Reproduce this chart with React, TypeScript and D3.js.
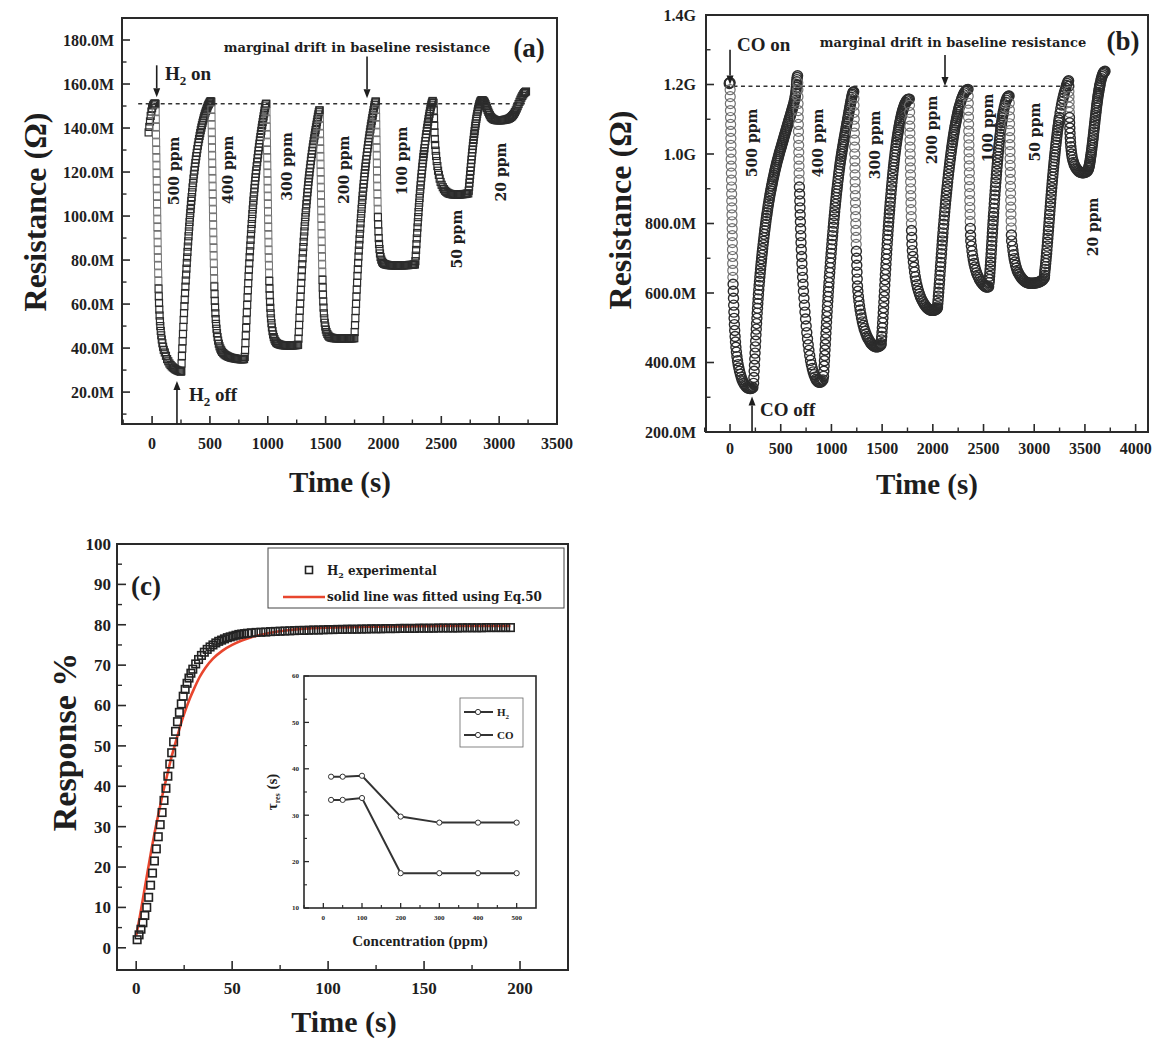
import React from "react";
import * as d3 from "d3";

type P = [number, number];

// ---------------- Panel (a): H2 sensing, resistance (MΩ) vs time (s) ----------------
const h2Lead: P[] = [[-30,138],[-24,140.5],[-18,143],[-12,145.5],[-6,147.5],[0,149],[8,150.3],[16,151],[24,151.2]];
const h2Ppm500: P[] = [
[30,151],[31,147.5],[32,144],[33,140.5],[34,137],[35,133.5],[36,130],[37,126.5],[38,123],[39,119.5],[40,116],[41,112.5],[42,109],[43,105.5],[44,102],[45,98.5],[46,95],[47,91.5],[48,88],[49,84.5],[50,81],[51.5,77.5],[53,74],[54.5,70.5],[56,67],[58,63.5],[60,60.5],[62.5,57.5],[65,54.8],[68,52.2],[71,50],[75,47.8],[79,45.8],[84,43.9],[89,42.2],[95,40.6],[101,39.2],
[110,38],[120,36.5],[130,35],[140,34],[150,33],[160,32.3],[170,31.7],[180,31.2],[190,30.8],[200,30.4],[210,30.1],[220,29.8],[230,29.6],[240,29.4],[250,29.3],
[252,29.5],[255,33],[258,36.4],[261,39.8],[264,43.1],[267,46.4],[270,49.6],[273,52.8],[276,55.9],[279,59],[282,62],[285,65],[288,67.9],[291,70.7],[294,73.4],[297,76.1],[300,78.7],[303,81.2],[306,83.7],[309,86.1],[312,88.5],[315,90.8],[318,93],[321,95.2],[324,97.3],[327,99.3],[330,101.3],[333,103.2],[336,105.1],[339,106.9],[342,108.6],[346,110.8],[350,113],[354,115],[358,117],[362,118.9],[366,120.7],[370,122.4],[374,124.1],[378,125.7],[382,127.2],[386,128.7],[391,130.4],[396,132],[401,133.6],[406,135],[411,136.4],[416,137.7],[421,139],[426,140.2],[431,141.3],[436,142.4],[441,143.4],[446,144.4],[451,145.3],[456,146.2],[461,147],[466,147.8],[471,148.5],[476,149.2],[481,149.9],[486,150.5],[491,151],[496,151.5],[501,151.9],[506,152.2]];
const h2Ppm400: P[] = [
[512,152],[513,148.5],[514,145],[515,141.5],[516,138],[517,134.5],[518,131],[519,127.5],[520,124],[521,120.5],[522,117],[523,113.5],[524,110],[525,106.5],[526,103],[527,99.5],[528,96],[529,92.5],[530,89],[531,85.5],[532,82],[533.5,78.5],[535,75],[536.5,71.5],[538,68],[540,64.5],[542,61.5],[544.5,58.5],[547,55.8],[550,53.2],[553,51],[557,48.8],[561,46.8],[566,45],[571,43.4],[577,42],[583,40.8],[590,39.8],[597,39],[605,38.3],
[615,37.7],[625,37.2],[635,36.8],[645,36.5],[655,36.2],[665,36],[675,35.8],[685,35.6],[695,35.5],[705,35.4],[715,35.3],[725,35.2],[735,35.1],[745,35],[755,35],[765,34.9],[775,34.9],[785,34.9],[795,35],
[801,36],[804,39],[807,42.3],[810,45.7],[813,49.2],[816,52.7],[819,56.2],[822,59.6],[825,63],[828,66.3],[831,69.5],[834,72.6],[837,75.6],[840,78.5],[843,81.3],[846,84],[849,86.6],[852,89.2],[855,91.7],[858,94.1],[861,96.4],[864,98.7],[867,100.9],[870,103],[873,105],[876,107],[879,108.9],[882,110.8],[885,112.6],[888,114.3],[891,116],[894,117.6],[897,119.2],[900,120.7],[904,122.6],[908,124.5],[912,126.3],[916,128],[920,129.7],[924,131.3],[928,132.9],[932,134.4],[936,135.9],[940,137.3],[944,138.7],[948,140.1],[952,141.4],[956,142.7],[960,144],[964,145.3],[968,146.6],[972,147.9],[976,149.1],[980,150.2],[984,151]];
const h2Ppm300: P[] = [
[988,151],[989,147.5],[990,144],[991,140.5],[992,137],[993,133.5],[994,130],[995,126.5],[996,123],[997,119.5],[998,116],[999,112.5],[1000,109],[1001,105.5],[1002,102],[1003,98.5],[1004,95],[1005,91.5],[1006,88],[1007,84.5],[1008.5,81],[1010,77.5],[1011.5,74],[1013,70.5],[1015,67],[1017,64],[1019.5,61],[1022,58.3],[1025,55.8],[1028,53.5],[1032,51.3],[1036,49.4],[1041,47.7],[1046,46.2],[1052,45],[1058,44],[1065,43.2],[1072,42.6],
[1080,42.2],[1090,41.9],[1100,41.7],[1110,41.5],[1120,41.4],[1130,41.3],[1140,41.3],[1150,41.2],[1160,41.2],[1170,41.2],[1180,41.2],[1190,41.2],[1200,41.2],[1210,41.2],[1220,41.2],[1230,41.3],[1240,41.3],[1250,41.4],[1258,41.4],
[1262,41.5],[1265,44.3],[1268,47.3],[1271,50.5],[1274,53.7],[1277,57],[1280,60.2],[1283,63.4],[1286,66.5],[1289,69.6],[1292,72.5],[1295,75.4],[1298,78.1],[1301,80.8],[1304,83.4],[1307,85.9],[1310,88.3],[1313,90.7],[1316,93],[1319,95.3],[1322,97.4],[1325,99.5],[1328,101.6],[1331,103.5],[1334,105.4],[1337,107.2],[1340,109],[1343,110.8],[1346,112.4],[1349,114],[1352,115.6],[1355,117.1],[1358,118.5],[1361,119.9],[1365,121.7],[1369,123.4],[1373,125.1],[1377,126.7],[1381,128.2],[1385,129.7],[1389,131.2],[1393,132.6],[1397,134],[1401,135.3],[1405,136.6],[1409,137.9],[1413,139.1],[1417,140.3],[1421,141.5],[1425,142.7],[1429,143.9],[1433,145.1],[1437,146.2],[1441,147.2],[1445,148]];
const h2Ppm200: P[] = [
[1449,148],[1450,144.5],[1451,141],[1452,137.5],[1453,134],[1454,130.5],[1455,127],[1456,123.5],[1457,120],[1458,116.5],[1459,113],[1460,109.5],[1461,106],[1462,102.5],[1463,99],[1464,95.5],[1465,92],[1466,88.5],[1467,85],[1468.5,81.5],[1470,78],[1471.5,74.5],[1473,71],[1475,67.5],[1477,64.3],[1479.5,61.2],[1482,58.4],[1485,55.8],[1488.5,53.5],[1492.5,51.5],[1497,49.8],[1502,48.4],[1508,47.3],[1515,46.4],[1523,45.7],[1531,45.2],
[1541,44.9],[1551,44.7],[1561,44.6],[1571,44.5],[1581,44.5],[1591,44.4],[1601,44.4],[1611,44.4],[1621,44.4],[1631,44.4],[1641,44.4],[1651,44.4],[1661,44.4],[1671,44.4],[1681,44.4],[1691,44.4],[1701,44.4],[1711,44.4],[1721,44.4],[1731,44.4],[1741,44.5],
[1748,44.5],[1751,47.3],[1754,50.4],[1757,53.6],[1760,56.9],[1763,60.1],[1766,63.4],[1769,66.6],[1772,69.7],[1775,72.8],[1778,75.8],[1781,78.7],[1784,81.6],[1787,84.3],[1790,86.9],[1793,89.4],[1796,91.9],[1799,94.3],[1802,96.7],[1805,99],[1808,101.1],[1811,103.3],[1814,105.3],[1817,107.3],[1820,109.2],[1823,111.1],[1826,112.9],[1829,114.6],[1832,116.3],[1835,117.9],[1838,119.5],[1841,121],[1844,122.4],[1847,123.9],[1851,125.7],[1855,127.4],[1859,129.1],[1863,130.7],[1867,132.3],[1871,133.8],[1875,135.3],[1879,136.7],[1883,138.1],[1887,139.4],[1891,140.8],[1895,142],[1899,143.3],[1903,144.5],[1907,145.7],[1911,146.9],[1915,148.1],[1919,149.3],[1923,150.4],[1927,151.2],[1931,152]];
const h2Ppm100: P[] = [
[1935,152],[1936,148.5],[1937,145],[1938,141.5],[1939,138],[1940,134.5],[1941,131],[1942,127.5],[1943,124],[1944,120.5],[1945,117],[1946,113.5],[1947.5,110],[1949,106.5],[1950.5,103],[1952,99.5],[1954,96.2],[1956.5,93],[1959,90],[1962,87.3],[1966,85],[1970,83],[1975,81.4],[1981,80.2],[1988,79.3],[1996,78.7],[2005,78.3],
[2015,78.1],[2025,77.9],[2035,77.8],[2045,77.7],[2055,77.7],[2065,77.6],[2075,77.6],[2085,77.6],[2095,77.6],[2105,77.6],[2115,77.6],[2125,77.6],[2135,77.6],[2145,77.6],[2155,77.6],[2165,77.6],[2175,77.6],[2185,77.7],[2195,77.7],[2205,77.7],[2215,77.7],[2225,77.8],[2235,77.8],[2245,77.8],[2255,77.9],[2265,78],[2272,78],
[2276,79.5],[2279,82],[2282,84.6],[2285,87.2],[2288,89.8],[2291,92.3],[2294,94.8],[2297,97.2],[2300,99.5],[2303,101.8],[2306,104],[2309,106.1],[2312,108.2],[2315,110.2],[2318,112.1],[2321,114],[2324,115.8],[2327,117.5],[2330,119.2],[2333,120.8],[2336,122.4],[2339,123.9],[2342,125.4],[2345,126.8],[2348,128.2],[2351,129.5],[2354,130.8],[2358,132.5],[2362,134.1],[2366,135.7],[2370,137.2],[2374,138.7],[2378,140.1],[2382,141.5],[2386,142.8],[2390,144.1],[2394,145.3],[2398,146.5],[2402,147.6],[2406,148.7],[2410,149.7],[2414,150.6],[2418,151.4],[2422,152],[2426,152.3]];
const h2Ppm50: P[] = [
[2433,151.5],[2435,148],[2437,144.5],[2439,141],[2441,138],[2444,135],[2447,132.3],[2451,129.7],[2455,127.3],[2460,125],[2466,122.7],[2472,120.6],[2479,118.7],[2486,117],[2494,115.5],[2503,114.2],[2513,113.1],[2523,112.2],[2533,111.5],[2543,111],[2553,110.6],[2563,110.3],[2573,110.1],[2583,110],[2593,109.9],[2603,109.8],[2613,109.8],[2623,109.8],[2633,109.8],[2643,109.8],[2653,109.8],[2663,109.8],[2673,109.9],[2683,109.9],[2693,110],[2703,110],[2713,110.1],[2723,110.2],[2733,110.3],
[2737,111.5],[2740,113.3],[2743,115.1],[2746,116.9],[2749,118.7],[2752,120.5],[2755,122.2],[2758,123.9],[2761,125.6],[2764,127.2],[2767,128.8],[2770,130.3],[2773,131.8],[2776,133.2],[2779,134.6],[2782,136],[2785,137.3],[2788,138.6],[2791,139.8],[2794,141],[2797,142.1],[2800,143.2],[2803,144.2],[2806,145.2],[2810,146.4],[2814,147.5],[2818,148.5],[2822,149.4],[2826,150.2],[2830,150.9],[2834,151.5],[2838,152],[2842,152.3],[2846,152.5],[2850,152.6],[2855,152.6],[2860,152.5],[2865,152.3],[2870,152]];
const h2Ppm20: P[] = [
[2876,151.5],[2882,150.8],[2888,150],[2894,149.1],[2900,148.2],[2906,147.4],[2913,146.6],[2920,145.8],[2928,145.1],[2936,144.6],[2945,144.2],[2954,143.9],[2964,143.7],[2974,143.6],[2984,143.5],[2994,143.5],[3004,143.5],[3014,143.5],[3024,143.6],[3034,143.6],[3044,143.7],[3054,143.8],[3064,143.9],[3074,144.1],[3084,144.3],[3094,144.6],[3104,145],[3112,145.4],[3120,145.9],[3128,146.5],[3136,147.2],[3144,148],[3152,148.9],[3160,149.9],[3168,150.9],[3176,151.9],[3184,152.9],[3192,153.8],[3200,154.6],[3208,155.3],[3216,155.9],[3224,156.3],[3232,156.6]];

const aYTicks = [20, 40, 60, 80, 100, 120, 140, 160, 180];
const aYLabels = ["20.0M", "40.0M", "60.0M", "80.0M", "100.0M", "120.0M", "140.0M", "160.0M", "180.0M"];
const aXTicks = [0, 500, 1000, 1500, 2000, 2500, 3000, 3500];
const aPpmLabels = ["500 ppm", "400 ppm", "300 ppm", "200 ppm", "100 ppm", "50 ppm", "20 ppm"];
const aPpmT = [192, 655, 1166, 1661, 2157, 2636, 3019];
const aPpmR = [120.5, 121, 122.5, 121, 125, 89.5, 120];

// ---------------- Panel (b): CO sensing, resistance (MΩ) vs time (s) ----------------
const coLead: P[] = [[-8,1203],[-4,1205]];
const coPpm500: P[] = [
[0,1205],[1,1185],[2,1165],[3,1145],[4,1125],[5,1105],[6,1085],[7,1065],[8,1045],[9,1025],[10,1005],[11,985],[12,965],[13,945],[14,925],[15,905],[16,885],[17,865],[18,845],[19,825],[20,805],[21,785],[22,765],[23,745],[24,725],[25,705],[26,685],[27,665],[28,645],
[30,625],[32,605],[34,585],[36,565],[38,545],[40,527],[43,509],[46,492],[50,475],[54,459],[58,444],[63,430],[68,417],[74,405],[80,394],[87,384],[94,375],[102,366],[110,358],[118,351],[127,345],[136,340],[145,336],[155,332],[165,329],[175,327],[185,326],[195,325],[205,325],[215,326],[225,328],
[232,340],[235,357],[238,375],[241,392],[244,410],[247,427],[250,445],[253,462],[256,480],[259,496],[262,512],[265,527],[268,542],[271,556],[274,570],[277,583],[280,596],[283.5,609],[287,622],[290.5,634],[294,646],[297.5,657],[301,668],[304.5,679],[308,689],[311.5,699],[315,709],[318.5,719],[322,728],[326,739],[330,749],[334,759],[338,769],[342,779],[346,788],[350,797],[354,806],[358,815],[362,823],[366,831],[370,839],[374.5,848],[379,856],[383.5,864],[388,872],[392.5,880],[397,887],[401.5,894],[406,901],[410.5,908],[415,914],[419.5,921],[424,927],[428.5,933],[433,939],[437.5,945],[442,951],[446.5,957],[451,962],[455.5,968],[460,973],[465,979],[470,984],[475,990],[480,995],[485,1001],[490,1006],[495,1011],[500,1016],[505,1021],[510,1026],[515,1031],[520,1036],[525,1041],[530,1046],[535,1051],[540,1056],[545,1061],[550,1066],[555,1071],[560,1076],[565,1081],[570,1086],[575,1091],[580,1096],[585,1101],[590,1106],[595,1111],[600,1116],[605,1121],[610,1126],[615,1131],[620,1136],[625,1141],[630,1147],[635,1153],[640,1160],[644,1167],[648,1175],[651,1183],[654,1192],[656,1200],[658,1208],[660,1214],[662,1220],[666,1225]];
const coPpm400: P[] = [
[668,1205],[669,1185],[670,1165],[671,1145],[672,1125],[673,1105],[674,1085],[675,1065],[676,1045],[677,1025],[678,1005],[679,985],[680,965],[681,945],[682,925],[684,905],[686,885],[688,865],[690,845],[692,825],[694,805],[696,785],[698,765],[700,745],[703,725],[706,705],[709,685],[712,665],[716,645],[720,625],[724,605],[729,585],[734,565],[739,545],[745,525],[751,505],[757,486],[764,468],[771,451],[778,435],[786,420],[794,406],[802,394],[811,383],[820,373],[829,365],[838,358],[847,352],[856,348],[866,345],[876,343],[886,343],[896,344],[906,346],[916,350],
[922,360],[925,375],[928,390],[931,405],[934,420],[937,436],[940,452],[943,468],[946,484],[949,500],[952,516],[955,532],[958,547],[961,562],[964,576],[967,590],[970,604],[973,617],[976,630],[979.5,645],[983,659],[986.5,673],[990,687],[993.5,701],[997,714],[1000.5,727],[1004,740],[1007.5,753],[1011,765],[1014.5,777],[1018,789],[1021.5,801],[1025,812],[1028.5,823],[1032,834],[1035.5,845],[1039,855],[1042.5,865],[1046,875],[1049.5,885],[1053,894],[1056.5,903],[1060,912],[1064,922],[1068,932],[1072,942],[1076,951],[1080,960],[1084,969],[1088,977],[1092,985],[1096,993],[1100,1000],[1104,1007],[1108,1014],[1112,1021],[1116,1028],[1120,1035],[1124,1041],[1128,1048],[1132,1054],[1136,1061],[1140,1067],[1144,1074],[1148,1080],[1152,1087],[1156,1093],[1160,1100],[1164,1106],[1168,1113],[1172,1119],[1176,1126],[1180,1132],[1184,1139],[1188,1145],[1192,1151],[1196,1157],[1200,1163],[1204,1168],[1208,1172],[1212,1176],[1216,1178],[1220,1179]];
const coPpm300: P[] = [
[1222,1160],[1223,1140],[1224,1120],[1225,1100],[1226,1080],[1227,1060],[1228,1040],[1229,1020],[1230,1000],[1231,980],[1232,960],[1233,940],[1234,920],[1235,900],[1236,880],[1237,860],[1238,840],[1239,820],[1240,800],[1241.5,780],[1243,760],[1244.5,740],[1246,720],[1248,700],[1250,680],[1252,660],[1254.5,640],[1257,620],
[1261,605],[1266,590],[1271,576],[1277,563],[1283,551],[1290,539],[1297,528],[1305,517],[1313,507],[1322,498],[1331,490],[1341,482],[1351,475],[1361,469],[1371,464],[1381,459],[1391,455],[1401,452],[1411,449],[1421,447],[1431,446],[1441,445],[1451,445],[1461,446],[1471,447],[1481,449],[1488,451],
[1490,455],[1493,465],[1496,475],[1499,487],[1502,500],[1505,514],[1508,528],[1511,543],[1514,558],[1517,574],[1520,590],[1523,606],[1526,622],[1529,638],[1532,653],[1535,668],[1538,683],[1541,698],[1544,712],[1547,726],[1550,740],[1553,754],[1556,767],[1559,780],[1562,792],[1565,804],[1568,816],[1571,828],[1574,839],[1577,850],[1580,861],[1583.5,873],[1587,885],[1590.5,897],[1594,908],[1597.5,919],[1601,930],[1604.5,941],[1608,951],[1611.5,961],[1615,970],[1618.5,979],[1622,988],[1626,998],[1630,1007],[1634,1016],[1638,1025],[1642,1033],[1646,1041],[1650,1049],[1654,1056],[1658,1063],[1662,1070],[1666,1077],[1670,1083],[1674,1089],[1678,1095],[1682.5,1101],[1687,1107],[1691.5,1113],[1696,1118],[1700.5,1123],[1705,1127],[1709.5,1131],[1714,1135],[1718.5,1139],[1723,1142],[1727.5,1145],[1732,1148],[1741,1153],[1750,1156],[1759,1158],[1768,1158]];
const coPpm200: P[] = [
[1770,1140],[1771,1120],[1772,1100],[1773,1080],[1774,1060],[1775,1040],[1776,1020],[1777,1000],[1778,980],[1779,960],[1780,940],[1781,920],[1782,900],[1783,880],[1784,860],[1785.5,840],[1787,820],[1788.5,800],[1790,780],[1792,760],[1794,740],
[1798,722],[1803,705],[1808,689],[1814,674],[1820,660],[1827,647],[1834,635],[1842,624],[1850,614],[1859,605],[1868,597],[1877,590],[1887,583],[1897,577],[1907,572],[1917,567],[1927,563],[1937,559],[1947,556],[1957,554],[1967,552],[1977,551],[1987,550],[1997,550],[2007,550],[2017,551],[2027,552],[2037,554],[2044,556],
[2046,560],[2049,570],[2052,580],[2055,591],[2058,602],[2061,614],[2064,626],[2067,638],[2070,651],[2073,663],[2076,676],[2079,688],[2082,701],[2085,713],[2088,726],[2091,738],[2094,750],[2097,761],[2100,773],[2103.5,786],[2107,798],[2110.5,810],[2114,822],[2117.5,834],[2121,845],[2124.5,856],[2128,867],[2131.5,878],[2135,888],[2138.5,898],[2142,908],[2146,919],[2150,930],[2154,941],[2158,951],[2162,961],[2166,971],[2170,981],[2174,990],[2178,999],[2182,1008],[2186,1017],[2190,1025],[2194,1033],[2198,1041],[2202,1049],[2206,1056],[2210,1063],[2214,1070],[2218,1077],[2222,1083],[2226,1089],[2230,1095],[2234.5,1102],[2239,1108],[2243.5,1114],[2248,1120],[2252.5,1126],[2257,1131],[2261.5,1136],[2266,1141],[2275,1150],[2284,1158],[2293,1165],[2302,1171],[2311,1176],[2320,1180],[2329,1183],[2338,1185],[2347,1186]];
const coPpm100: P[] = [
[2349,1166],[2350,1146],[2351,1126],[2352,1106],[2353,1086],[2354,1066],[2355,1046],[2356,1026],[2357,1006],[2358,986],[2359,966],[2360,946],[2361,926],[2362,906],[2363,886],[2364,866],[2365.5,846],[2367,826],[2368.5,806],[2370,786],[2372,766],[2374,750],
[2380,735],[2386,721],[2392,708],[2399,696],[2406,685],[2414,675],[2422,666],[2431,658],[2440,651],[2450,645],[2460,639],[2470,634],[2480,630],[2490,626],[2500,623],[2510,620],[2520,618],[2530,617],[2540,617],[2550,618],
[2555,630],[2557.5,639],[2560,648],[2562.5,658],[2565,668],[2567.5,679],[2570,690],[2572.5,701],[2575,713],[2577.5,725],[2580,737],[2582.5,749],[2585,761],[2587.5,773],[2590,785],[2592.5,797],[2595,808],[2597.5,820],[2600,831],[2603,844],[2606,857],[2609,870],[2612,882],[2615,894],[2618,906],[2621,918],[2624,929],[2627,940],[2630,951],[2633,962],[2636,972],[2639,982],[2642,992],[2645,1002],[2648,1011],[2651,1020],[2654,1029],[2657.5,1039],[2661,1048],[2664.5,1057],[2668,1066],[2671.5,1074],[2675,1082],[2678.5,1090],[2682,1097],[2685.5,1104],[2689,1110],[2692.5,1116],[2696,1122],[2703,1132],[2710,1141],[2717,1149],[2724,1155],[2731,1160],[2738,1164],[2745,1166],[2752,1167]];
const coPpm50: P[] = [
[2754,1147],[2755,1127],[2756,1107],[2757,1087],[2758,1067],[2759,1047],[2760,1027],[2761,1007],[2762,987],[2763,967],[2764,947],[2765,927],[2766,907],[2767,887],[2768,867],[2769,847],[2770.5,827],[2772,807],[2773.5,787],[2775,767],[2777,750],
[2785,735],[2790,722],[2796,710],[2802,699],[2809,689],[2816,680],[2824,672],[2832,665],[2841,659],[2850,654],[2860,649],[2870,645],[2880,641],[2890,638],[2900,635],[2910,633],[2920,631],[2930,630],[2940,629],[2950,628],[2960,628],[2970,628],[2980,628],[2990,628],[3000,628],[3010,629],[3020,629],[3030,630],[3040,631],[3050,632],[3060,633],[3070,635],[3080,637],[3090,640],[3100,644],
[3102,651],[3104,660],[3107,668],[3110,676],[3113,685],[3116,694],[3119,704],[3122,714],[3125,724],[3128,735],[3131,746],[3134,757],[3137,768],[3140,780],[3143,791],[3146,803],[3149,814],[3152,826],[3155,837],[3158,849],[3161,860],[3164,871],[3167,882],[3170,893],[3173,903],[3176,914],[3179,924],[3182,934],[3185,943],[3188,953],[3191,962],[3194,971],[3197,980],[3200,989],[3203,997],[3206,1006],[3209.5,1015],[3213,1025],[3216.5,1034],[3220,1043],[3223.5,1051],[3227,1060],[3230.5,1068],[3234,1076],[3237.5,1083],[3241,1091],[3244.5,1098],[3248,1105],[3255,1118],[3262,1130],[3269,1141],[3276,1151],[3283,1160],[3290,1168],[3297,1176],[3304,1183],[3311,1190],[3318,1197],[3325,1203],[3332,1208],[3339,1211]];
const coPpm20: P[] = [
[3341,1195],[3342,1180],[3343,1165],[3344,1150],[3345,1135],[3346,1120],[3347.5,1105],[3349,1090],[3351,1075],[3353,1060],[3355.5,1046],[3358,1033],[3361,1021],[3365,1010],[3369,1000],[3374,991],[3380,983],[3387,976],[3394,970],[3402,965],[3411,960],[3420,956],[3430,953],[3440,950],[3450,948],[3460,947],[3470,946],[3480,946],[3490,946],[3500,947],[3510,948],[3520,950],[3530,953],
[3536,958],[3539,962],[3542,966],[3545,970],[3548,975],[3551,980],[3554,986],[3557,992],[3560,998],[3563,1004],[3566,1011],[3569,1018],[3572,1025],[3575,1032],[3578,1040],[3581,1047],[3584,1055],[3587,1063],[3590,1071],[3593,1079],[3596,1087],[3599,1095],[3602,1103],[3605,1110],[3608,1118],[3611,1125],[3614,1133],[3617,1140],[3620,1147],[3623,1153],[3626,1160],[3629,1166],[3632,1172],[3635,1177],[3638,1183],[3641,1188],[3644,1193],[3647,1197],[3650,1202],[3656,1210],[3662,1217],[3668,1223],[3674,1228],[3680,1232],[3686,1235],[3692,1237],[3698,1238]];

const bYTicks = [200, 400, 600, 800, 1000, 1200, 1400];
const bYLabels = ["200.0M", "400.0M", "600.0M", "800.0M", "1.0G", "1.2G", "1.4G"];
const bXTicks = [0, 500, 1000, 1500, 2000, 2500, 3000, 3500, 4000];
const bPpmLabels = ["500 ppm", "400 ppm", "300 ppm", "200 ppm", "100 ppm", "50 ppm", "20 ppm"];
const bPpmT = [217, 868, 1430, 1992, 2544, 3008, 3580];
const bPpmR = [1032, 1032, 1026, 1069, 1075, 1063, 790];

// ---------------- Panel (c): H2 response (%) vs time (s) ----------------
const cTime = [0.5,1.5,2.5,3.5,4.5,5.5,6.5,7.5,8.5,9.5,10.5,11.5,12.5,13.5,14.5,15.5,16.5,17.5,18.5,19.5,20.5,21.5,22.5,23.5,24.5,25.5,26.5,27.5,28.5,29.5,31,32.5,34,35.5,37,38.5,40,41.5,43,44.5,46,47.5,49,50.5,52,53.5,55,56.5,58,60,62.5,65,67.5,70,72.5,75,77.5,80,82.5,85,87.5,90,92.5,95,97.5,100,102.5,105,107.5,110,112.5,115,117.5,120,122.5,125,127.5,130,132.5,135,137.5,140,142.5,145,147.5,150,152.5,155,157.5,160,162.5,165,167.5,170,172.5,175,177.5,180,182.5,185,187.5,190,192.5,195];
const cResp = [2,3.2,4.6,6.2,8,10,12.5,15.5,18.5,21.5,24.5,27.5,30.5,33.5,36.5,39.5,42.5,45.5,48.3,51,53.6,56,58.3,60.4,62.3,64,65.5,66.8,68,69,70.3,71.4,72.4,73.2,73.9,74.5,75,75.5,75.9,76.2,76.5,76.8,77,77.2,77.4,77.6,77.7,77.8,77.9,78,78.1,78.15,78.2,78.3,78.35,78.4,78.45,78.5,78.55,78.6,78.6,78.65,78.7,78.7,78.75,78.8,78.8,78.85,78.85,78.9,78.9,78.9,78.95,78.95,79,79,79,79.05,79.05,79.05,79.1,79.1,79.1,79.1,79.15,79.15,79.15,79.15,79.2,79.2,79.2,79.2,79.2,79.25,79.25,79.25,79.25,79.25,79.3,79.3,79.3,79.3,79.3,79.3];
const fitTime = [0,2,4,6,8,10,12,14,16,18,20,22,24,26,28,30,33,36,40,45,50,55,60,65,70,80,90,100,120,140,160,180,195];
const fitResp = [3,8,13.5,19,24.5,29.5,34,38.5,42.5,46.5,50,53.3,56.5,59.3,61.8,64,67,69.3,71.6,73.6,75,76.1,76.9,77.5,78,78.7,79.1,79.3,79.5,79.6,79.7,79.7,79.7];
const cYTicks = [0, 10, 20, 30, 40, 50, 60, 70, 80, 90, 100];
const cXTicks = [0, 50, 100, 150, 200];

// inset: response time vs concentration
const insetConc = [20, 50, 100, 200, 300, 400, 500];
const insetH2 = [38.3, 38.3, 38.5, 29.7, 28.4, 28.4, 28.4];
const insetCO = [33.3, 33.3, 33.7, 17.5, 17.5, 17.5, 17.5];
const insetYTicks = [10, 20, 30, 40, 50, 60];
const insetXTicks = [0, 100, 200, 300, 400, 500];

// ---------------- styling ----------------
const SERIF = "'Liberation Serif','Times New Roman',serif";
const WIDE = "'DejaVu Serif','Liberation Serif',serif";
const INK = "#1e1e1e";
const AXIS = "#2a2a2a";

// scales
const ax = d3.scaleLinear().domain([-260, 3500]).range([122, 557]);
const ay = d3.scaleLinear().domain([5.5, 190]).range([424, 18]);
const bx = d3.scaleLinear().domain([-237, 4122]).range([706, 1148]);
const by = d3.scaleLinear().domain([200, 1400]).range([432, 15]);
const cx = d3.scaleLinear().domain([-10, 225]).range([117, 568]);
const cy = d3.scaleLinear().domain([-5.5, 100]).range([970, 544]);
const ix = d3.scaleLinear().domain([-50, 550]).range([304, 536]);
const iy = d3.scaleLinear().domain([10, 60]).range([908, 676]);

type Lin = d3.ScaleLinear<number, number>;

// marker tone: nearly vertical (fast) stretches look lighter, as in the scanned figure
function tones(series: P[], xs: Lin, ys: Lin): boolean[] {
  return series.map((d, i) => {
    const a = series[Math.max(0, i - 1)];
    const b = series[Math.min(series.length - 1, i + 1)];
    const dx = Math.abs(xs(b[0]) - xs(a[0]));
    const dy = Math.abs(ys(b[1]) - ys(a[1]));
    return dy / Math.max(dx, 0.01) > 40 && dy > 8;
  });
}

function Axes(props: {
  xs: Lin; ys: Lin; xMajor: number[]; xMinor: number[]; yMajor: number[]; yMinor: number[];
  xLabels: string[]; yLabels: string[]; fs: number; xLabY: number; yLabX: number;
  major: number; minor: number; sw: number; family?: string;
}) {
  const { xs, ys, xMajor, xMinor, yMajor, yMinor, xLabels, yLabels, fs, xLabY, yLabX, major, minor, sw } = props;
  const fam = props.family || SERIF;
  const [x0, x1] = xs.range();
  const [y0, y1] = ys.range();
  return (
    <g>
      <rect x={x0} y={y1} width={x1 - x0} height={y0 - y1} fill="none" stroke={AXIS} strokeWidth={sw} />
      {xMajor.map((v, i) => (
        <line key={"xM" + i} x1={xs(v)} x2={xs(v)} y1={y0} y2={y0 - major} stroke={AXIS} strokeWidth={sw * 0.8} />
      ))}
      {xMinor.map((v, i) => (
        <line key={"xm" + i} x1={xs(v)} x2={xs(v)} y1={y0} y2={y0 - minor} stroke={AXIS} strokeWidth={sw * 0.7} />
      ))}
      {yMajor.map((v, i) => (
        <line key={"yM" + i} x1={x0} x2={x0 + major} y1={ys(v)} y2={ys(v)} stroke={AXIS} strokeWidth={sw * 0.8} />
      ))}
      {yMinor.map((v, i) => (
        <line key={"ym" + i} x1={x0} x2={x0 + minor} y1={ys(v)} y2={ys(v)} stroke={AXIS} strokeWidth={sw * 0.7} />
      ))}
      {xMajor.map((v, i) => (
        <text key={"xl" + i} x={xs(v)} y={xLabY} textAnchor="middle" fontFamily={fam} fontWeight="bold" fontSize={fs} fill={INK}>
          {xLabels[i]}
        </text>
      ))}
      {yMajor.map((v, i) => (
        <text key={"yl" + i} x={yLabX} y={ys(v)} dy="0.35em" textAnchor="end" fontFamily={fam} fontWeight="bold" fontSize={fs} fill={INK}>
          {yLabels[i]}
        </text>
      ))}
    </g>
  );
}

function Arrow(props: { x: number; yFrom: number; yTo: number }) {
  const { x, yFrom, yTo } = props;
  const dir = yTo > yFrom ? 1 : -1;
  const hl = 9, hw = 3.5;
  return (
    <g>
      <line x1={x} x2={x} y1={yFrom} y2={yTo - dir * hl} stroke={INK} strokeWidth={1.6} />
      <polygon points={`${x - hw},${yTo - dir * hl} ${x + hw},${yTo - dir * hl} ${x},${yTo}`} fill={INK} />
    </g>
  );
}

function VText(props: { x: number; y: number; size: number; family?: string; children: React.ReactNode }) {
  return (
    <text transform={`translate(${props.x},${props.y}) rotate(-90)`} textAnchor="middle" dominantBaseline="central"
      fontFamily={props.family || WIDE} fontWeight="bold" fontSize={props.size} fill={INK}>
      {props.children}
    </text>
  );
}

function PanelA() {
  const series: P[] = [...h2Lead, ...h2Ppm500, ...h2Ppm400, ...h2Ppm300, ...h2Ppm200, ...h2Ppm100, ...h2Ppm50, ...h2Ppm20];
  const light = tones(series, ax, ay);
  const s = 7;
  return (
    <g>
      <line x1={ax(-120)} x2={ax(3250)} y1={ay(151)} y2={ay(151)} stroke="#333" strokeWidth={1.5} strokeDasharray="4,3.5" />
      {series.map((d, i) => (
        <rect key={i} x={ax(d[0]) - s / 2} y={ay(d[1]) - s / 2} width={s} height={s} fill="none"
          stroke={light[i] ? "#6e6e6e" : "#2c2c2c"} strokeWidth={light[i] ? 1 : 1.2} />
      ))}
      <Axes xs={ax} ys={ay} xMajor={aXTicks} xMinor={d3.range(-250, 3500, 500)} yMajor={aYTicks} yMinor={d3.range(10, 191, 20)}
        xLabels={aXTicks.map(String)} yLabels={aYLabels} fs={16} xLabY={449} yLabX={114} major={8} minor={4.5} sw={2} />
      <text transform="translate(46,212) rotate(-90)" textAnchor="middle" fontFamily={SERIF} fontWeight="bold" fontSize={32} fill={INK}>
        Resistance (Ω)
      </text>
      <text x={340} y={492} textAnchor="middle" fontFamily={SERIF} fontWeight="bold" fontSize={29} fill={INK}>Time (s)</text>
      <text x={529} y={57} textAnchor="middle" fontFamily={SERIF} fontWeight="bold" fontSize={27} fill={INK}>(a)</text>
      <text x={357} y={52} textAnchor="middle" fontFamily={WIDE} fontWeight="bold" fontSize={13} fill={INK}>
        marginal drift in baseline resistance
      </text>
      <Arrow x={ax(40)} yFrom={ay(168.5)} yTo={ay(154)} />
      <Arrow x={ax(215)} yFrom={ay(5.5)} yTo={ay(25)} />
      <Arrow x={ax(1858)} yFrom={ay(172.5)} yTo={ay(153.5)} />
      <text x={165} y={80} fontFamily={SERIF} fontWeight="bold" fontSize={19} fill={INK}>
        H<tspan dy={5} fontSize={13}>2</tspan><tspan dy={-5}> on</tspan>
      </text>
      <text x={189} y={401} fontFamily={SERIF} fontWeight="bold" fontSize={19} fill={INK}>
        H<tspan dy={5} fontSize={13}>2</tspan><tspan dy={-5}> off</tspan>
      </text>
      {aPpmLabels.map((l, i) => (
        <VText key={i} x={ax(aPpmT[i])} y={ay(aPpmR[i])} size={14}>{l}</VText>
      ))}
    </g>
  );
}

function PanelB() {
  const series: P[] = [...coLead, ...coPpm500, ...coPpm400, ...coPpm300, ...coPpm200, ...coPpm100, ...coPpm50, ...coPpm20];
  const light = tones(series, bx, by);
  return (
    <g>
      <line x1={bx(-40)} x2={bx(3270)} y1={by(1195)} y2={by(1195)} stroke="#333" strokeWidth={1.5} strokeDasharray="4,3.5" />
      {series.map((d, i) => (
        <circle key={i} cx={bx(d[0])} cy={by(d[1])} r={5} fill="none"
          stroke={light[i] ? "#707070" : "#2c2c2c"} strokeWidth={light[i] ? 1.2 : 1.4} />
      ))}
      <Axes xs={bx} ys={by} xMajor={bXTicks} xMinor={d3.range(-250, 4122, 500)} yMajor={bYTicks} yMinor={d3.range(300, 1400, 200)}
        xLabels={bXTicks.map(String)} yLabels={bYLabels} fs={16} xLabY={454} yLabX={696} major={8} minor={4.5} sw={2} />
      <text transform="translate(631,210) rotate(-90)" textAnchor="middle" fontFamily={SERIF} fontWeight="bold" fontSize={32} fill={INK}>
        Resistance (Ω)
      </text>
      <text x={927} y={494} textAnchor="middle" fontFamily={SERIF} fontWeight="bold" fontSize={29} fill={INK}>Time (s)</text>
      <text x={1123} y={50} textAnchor="middle" fontFamily={SERIF} fontWeight="bold" fontSize={27} fill={INK}>(b)</text>
      <text x={953} y={47} textAnchor="middle" fontFamily={WIDE} fontWeight="bold" fontSize={13} fill={INK}>
        marginal drift in baseline resistance
      </text>
      <Arrow x={bx(0)} yFrom={by(1300)} yTo={by(1200)} />
      <Arrow x={bx(217)} yFrom={by(200)} yTo={by(302)} />
      <Arrow x={bx(2120)} yFrom={by(1285)} yTo={by(1196)} />
      <text x={737} y={51} fontFamily={SERIF} fontWeight="bold" fontSize={19} fill={INK}>CO on</text>
      <text x={760} y={416} fontFamily={SERIF} fontWeight="bold" fontSize={19} fill={INK}>CO off</text>
      {bPpmLabels.map((l, i) => (
        <VText key={i} x={bx(bPpmT[i])} y={by(bPpmR[i])} size={14}>{l}</VText>
      ))}
    </g>
  );
}

function PanelC() {
  const fitLine = d3.line<number>().x((_, i) => cx(fitTime[i])).y((v) => cy(v)).curve(d3.curveMonotoneX);
  const h2Line = d3.line<number>().x((_, i) => ix(insetConc[i])).y((v) => iy(v));
  const s = 7.5;
  return (
    <g>
      <path d={fitLine(fitResp) || ""} fill="none" stroke="#e8462e" strokeWidth={2.6} />
      {cResp.map((v, i) => (
        <rect key={i} x={cx(cTime[i]) - s / 2} y={cy(v) - s / 2} width={s} height={s} fill="none" stroke="#222" strokeWidth={1.6} />
      ))}
      <Axes xs={cx} ys={cy} xMajor={cXTicks} xMinor={d3.range(25, 225, 50)} yMajor={cYTicks} yMinor={d3.range(5, 100, 10)}
        xLabels={cXTicks.map(String)} yLabels={cYTicks.map(String)} fs={17} xLabY={994} yLabX={111} major={9} minor={5} sw={2} />
      <text transform="translate(76,742) rotate(-90)" textAnchor="middle" fontFamily={SERIF} fontWeight="bold" fontSize={34} fill={INK}>
        Response %
      </text>
      <text x={344} y={1032} textAnchor="middle" fontFamily={SERIF} fontWeight="bold" fontSize={30} fill={INK}>Time (s)</text>
      <text x={131} y={595} fontFamily={SERIF} fontWeight="bold" fontSize={27} fill={INK}>(c)</text>
      {/* legend */}
      <rect x={268} y={548} width={296} height={60} fill="white" stroke="#444" strokeWidth={1} />
      <rect x={305.5} y={566.5} width={7} height={7} fill="white" stroke="#222" strokeWidth={1.6} />
      <text x={327} y={575} fontFamily={WIDE} fontWeight="bold" fontSize={12} fill={INK}>
        H<tspan dy={3} fontSize={8}>2</tspan><tspan dy={-3}> experimental</tspan>
      </text>
      <line x1={283} x2={325} y1={597} y2={597} stroke="#e8462e" strokeWidth={2.4} />
      <text x={327} y={601} fontFamily={WIDE} fontWeight="bold" fontSize={12} fill={INK}>solid line was fitted using Eq.50</text>
      {/* inset */}
      <rect x={ix.range()[0]} y={iy.range()[1]} width={ix.range()[1] - ix.range()[0]} height={iy.range()[0] - iy.range()[1]} fill="white" stroke="none" />
      <path d={h2Line(insetH2) || ""} fill="none" stroke="#333" strokeWidth={2} />
      <path d={h2Line(insetCO) || ""} fill="none" stroke="#333" strokeWidth={2} />
      {insetH2.map((v, i) => (
        <circle key={"h" + i} cx={ix(insetConc[i])} cy={iy(v)} r={2.6} fill="white" stroke="#333" strokeWidth={1} />
      ))}
      {insetCO.map((v, i) => (
        <circle key={"c" + i} cx={ix(insetConc[i])} cy={iy(v)} r={2.6} fill="white" stroke="#333" strokeWidth={1} />
      ))}
      <Axes xs={ix} ys={iy} xMajor={insetXTicks} xMinor={d3.range(-50, 550, 100)} yMajor={insetYTicks} yMinor={d3.range(15, 60, 10)}
        xLabels={insetXTicks.map(String)} yLabels={insetYTicks.map(String)} fs={7} xLabY={920} yLabX={299} major={5} minor={3} sw={1.6} />
      <text x={420} y={946} textAnchor="middle" fontFamily={SERIF} fontWeight="bold" fontSize={15} fill={INK}>Concentration (ppm)</text>
      <text transform="translate(277,792) rotate(-90)" textAnchor="middle" fontFamily={SERIF} fontWeight="bold" fontSize={15} fill={INK}>
        τ<tspan dy={3} fontSize={8}>res</tspan><tspan dy={-3}> (s)</tspan>
      </text>
      <rect x={460} y={698} width={63} height={49} fill="white" stroke="#666" strokeWidth={0.8} />
      <line x1={464} x2={493} y1={712} y2={712} stroke="#333" strokeWidth={2} />
      <circle cx={478} cy={712} r={2.6} fill="white" stroke="#333" strokeWidth={1} />
      <text x={497} y={716} fontFamily={SERIF} fontWeight="bold" fontSize={11} fill={INK}>
        H<tspan dy={3} fontSize={7}>2</tspan>
      </text>
      <line x1={464} x2={493} y1={735} y2={735} stroke="#333" strokeWidth={2} />
      <circle cx={478} cy={735} r={2.6} fill="white" stroke="#333" strokeWidth={1} />
      <text x={497} y={739} fontFamily={SERIF} fontWeight="bold" fontSize={11} fill={INK}>CO</text>
    </g>
  );
}

export default function App() {
  return (
    <svg width={1154} height={1041} viewBox="0 0 1154 1041" style={{ position: "absolute", left: 0, top: 0, display: "block" }}>
      <rect x={0} y={0} width={1154} height={1041} fill="white" />
      <PanelA />
      <PanelB />
      <PanelC />
    </svg>
  );
}
